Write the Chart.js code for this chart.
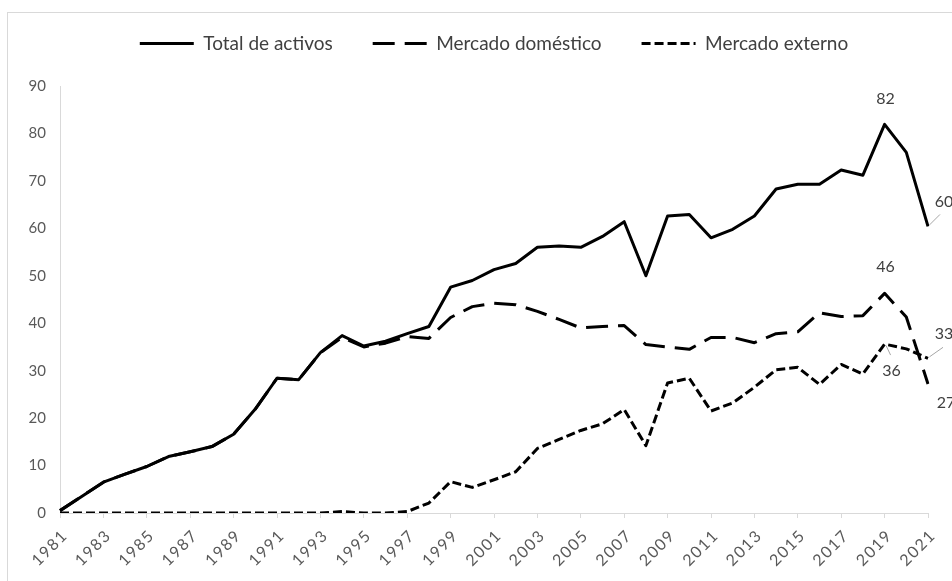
<!DOCTYPE html>
<html><head><meta charset="utf-8">
<script src="https://cdn.jsdelivr.net/npm/chart.js@4.4.1/dist/chart.umd.min.js"></script>
<style>
html,body{margin:0;padding:0;background:#fff;overflow:hidden;}
#wrap{position:relative;width:952px;height:581px;overflow:hidden;background:#fff;}
#frame{position:absolute;left:7px;top:12px;width:1000px;height:1000px;border:1px solid #d9d9d9;box-sizing:border-box;}
canvas{position:absolute;left:0;top:0;}
</style></head><body>
<div id="wrap"><div id="frame"></div><canvas id="c" width="952" height="581"></canvas></div>
<script>
const years = ['1981','1982','1983','1984','1985','1986','1987','1988','1989','1990','1991','1992','1993','1994','1995','1996','1997','1998','1999','2000','2001','2002','2003','2004','2005','2006','2007','2008','2009','2010','2011','2012','2013','2014','2015','2016','2017','2018','2019','2020','2021'];
const totalActivos = [0.5,3.5,6.5,8.2,9.8,11.9,12.9,14.0,16.6,21.9,28.4,28.1,33.8,37.4,35.2,36.2,37.8,39.3,47.6,49.0,51.3,52.6,56.0,56.3,56.0,58.3,61.4,50.0,62.6,62.9,58.0,59.8,62.6,68.3,69.3,69.3,72.3,71.2,81.9,76.0,60.4];
const mercadoDomestico = [0.5,3.5,6.5,8.2,9.8,11.9,12.9,14.0,16.6,21.9,28.4,28.1,33.8,37.0,35.0,35.8,37.2,36.8,41.2,43.5,44.2,43.9,42.5,40.8,39.0,39.3,39.5,35.5,35.0,34.5,37.0,37.0,35.9,37.8,38.2,42.2,41.4,41.6,46.3,41.3,27.2];
const mercadoExterno = [0,0,0,0,0,0,0,0,0,0,0,0,0,0.3,0,0,0.3,2.1,6.6,5.4,7.0,8.7,13.6,15.5,17.4,18.8,21.8,14.2,27.4,28.4,21.5,23.2,26.5,30.2,30.7,27.1,31.3,29.3,35.6,34.6,32.6];
const seriesNames = ['Total de activos','Mercado doméstico','Mercado externo'];
const yMin = 0, yMax = 90, yStep = 10;

const FONT = 'Lato, "Open Sans", sans-serif';
const X_LETTER_SPACING = '1.5px';

// annotated points
const annotations = [
  {ds:0, year:'2019', dx:1, dy:-26, leader:null},
  {ds:0, year:'2021', dx:16, dy:-25, leader:[12,-12]},
  {ds:1, year:'2019', dx:1, dy:-26, leader:null},
  {ds:2, year:'2021', dx:16, dy:-24, leader:[15,-11]},
  {ds:2, year:'2019', dx:7, dy:27, leader:[6,11]},
  {ds:1, year:'2021', dx:18, dy:19, leader:null}
];

const labelPlugin = {
  id: 'pointLabels',
  afterDatasetsDraw(chart) {
    const ctx = chart.ctx;
    ctx.save();
    ctx.font = '16px ' + FONT;
    ctx.textAlign = 'center';
    ctx.textBaseline = 'middle';
    annotations.forEach(a => {
      const idx = years.indexOf(a.year);
      const meta = chart.getDatasetMeta(a.ds);
      const pt = meta.data[idx];
      const v = chart.data.datasets[a.ds].data[idx];
      if (a.leader) {
        ctx.strokeStyle = '#a6a6a6';
        ctx.lineWidth = 1;
        ctx.beginPath();
        ctx.moveTo(pt.x + Math.sign(a.leader[0]) * 1.5, pt.y + Math.sign(a.leader[1]) * 1.5);
        ctx.lineTo(pt.x + a.leader[0], pt.y + a.leader[1]);
        ctx.stroke();
      }
      ctx.fillStyle = '#404040';
      ctx.fillText(String(Math.round(v)), pt.x + a.dx, pt.y + a.dy);
    });
    ctx.restore();
  }
};

const letterSpacingPlugin = {
  id: 'xLetterSpacing',
  afterLayout(chart) {
    const s = chart.scales.x;
    if (s && !s.__ls) {
      const orig = s.drawLabels;
      s.drawLabels = function(area) {
        const ctx = this.ctx;
        ctx.save();
        ctx.letterSpacing = X_LETTER_SPACING;
        orig.call(this, area);
        ctx.restore();
      };
      s.__ls = true;
    }
  }
};

const lineCommon = {borderColor:'#000000', backgroundColor:'#000000', borderWidth:3, pointRadius:0, pointHoverRadius:0, pointStyle:'line', tension:0, fill:false, borderJoinStyle:'round', borderCapStyle:'butt'};

new Chart(document.getElementById('c'), {
  type: 'line',
  data: {
    labels: years,
    datasets: [
      Object.assign({label: seriesNames[0], data: totalActivos, borderDash: []}, lineCommon),
      Object.assign({label: seriesNames[1], data: mercadoDomestico, borderDash: [22, 10]}, lineCommon),
      Object.assign({label: seriesNames[2], data: mercadoExterno, borderDash: [9, 4]}, lineCommon)
    ]
  },
  options: {
    responsive: false,
    animation: false,
    devicePixelRatio: 1,
    layout: {padding: {top: -6, left: 0, right: 24, bottom: 0}},
    plugins: {
      legend: {
        position: 'top',
        fullSize: false,
        labels: {
          usePointStyle: true,
          pointStyleWidth: 54,
          padding: 40,
          color: '#404040',
          font: {family: FONT, size: 19},
          generateLabels(chart) {
            const items = Chart.defaults.plugins.legend.labels.generateLabels(chart);
            items.forEach(it => {
              const ds = chart.data.datasets[it.datasetIndex];
              it.lineDash = ds.borderDash;
              it.lineWidth = ds.borderWidth;
              it.strokeStyle = ds.borderColor;
              it.fillStyle = ds.borderColor;
              it.pointStyle = 'line';
            });
            return items;
          }
        }
      },
      tooltip: {enabled: false}
    },
    scales: {
      x: {
        type: 'category',
        offset: false,
        grid: {display: true, drawOnChartArea: false, drawTicks: true, tickLength: 5,
               color: (c) => (c.index % 2 === 0 ? '#d9d9d9' : 'rgba(0,0,0,0)'), lineWidth: 1},
        border: {display: true, color: '#d9d9d9', width: 1},
        ticks: {
          autoSkip: false, minRotation: 45, maxRotation: 45, padding: 8, labelOffset: 5,
          color: '#595959', font: {family: FONT, size: 16},
          callback: function(value, index) { return index % 2 === 0 ? this.getLabelForValue(value) : ''; }
        },
        afterFit(s) { s.height = 68; }
      },
      x2: {
        type: 'category', position: 'top', display: true,
        grid: {display: false, drawTicks: false}, border: {display: false},
        ticks: {display: false},
        afterFit(s) { s.height = 23; }
      },
      y: {
        min: yMin, max: yMax,
        grid: {display: false, drawTicks: false},
        border: {display: true, color: '#d9d9d9', width: 1},
        ticks: {stepSize: yStep, padding: 14, color: '#595959', font: {family: FONT, size: 15}},
        afterFit(s) { s.width = 60; }
      }
    }
  },
  plugins: [labelPlugin, letterSpacingPlugin]
});
</script></body></html>
